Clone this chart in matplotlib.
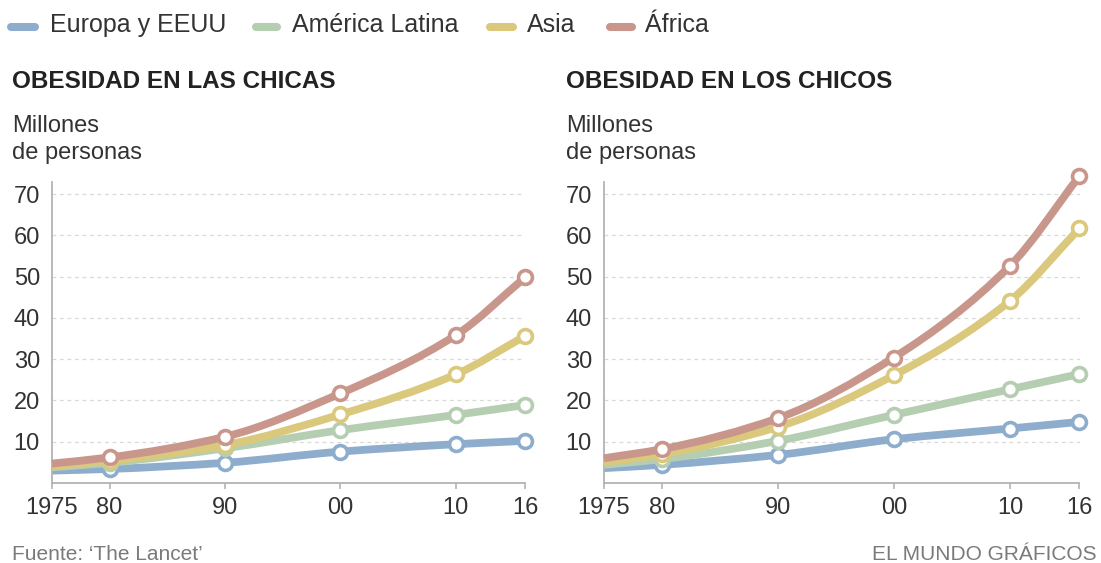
import numpy as np
import matplotlib
matplotlib.use("Agg")
import matplotlib.pyplot as plt
from matplotlib.path import Path
from matplotlib.patches import PathPatch
from matplotlib.lines import Line2D

plt.rcParams['font.family'] = ['Liberation Sans', 'DejaVu Sans']

# ---- data ----
years = [1975, 1980, 1990, 2000, 2010, 2016]
year_labels = ['1975', '80', '90', '00', '10', '16']
yticks = [10, 20, 30, 40, 50, 60, 70]
has_marker = [False, True, True, True, True, True]

series_names = ['Europa y EEUU', 'América Latina', 'Asia', 'África']
series_colors = ['#8eadcd', '#b5ceb1', '#dac87c', '#c9968b']

europa_chicas = [3.0, 3.4, 4.9, 7.6, 9.4, 10.2]
latina_chicas = [3.8, 4.9, 8.4, 12.8, 16.5, 18.9]
asia_chicas = [4.1, 5.4, 9.2, 16.6, 26.3, 35.6]
africa_chicas = [4.7, 6.2, 11.2, 21.7, 35.8, 49.8]

europa_chicos = [3.6, 4.4, 6.8, 10.6, 13.2, 14.8]
latina_chicos = [4.4, 5.8, 10.2, 16.5, 22.7, 26.4]
asia_chicos = [5.0, 7.0, 13.6, 26.1, 44.1, 61.7]
africa_chicos = [6.0, 8.2, 15.7, 30.4, 52.6, 74.4]

titles = ['OBESIDAD EN LAS CHICAS', 'OBESIDAD EN LOS CHICOS']
source = "Fuente: ‘The Lancet’"
credit = 'EL MUNDO GRÁFICOS'

W, H = 1101, 563
fig = plt.figure(figsize=(W / 100, H / 100), dpi=100)
fig.patch.set_facecolor('white')


def fx(px):
    return px / W


def fy(py):
    return 1 - py / H


def monotone_path(x, y):
    x = np.asarray(x, float)
    y = np.asarray(y, float)
    n = len(x)
    h = np.diff(x)
    d = np.diff(y) / h
    m = np.zeros(n)
    m[0] = d[0]
    m[-1] = d[-1]
    for i in range(1, n - 1):
        if d[i - 1] * d[i] <= 0:
            m[i] = 0
        else:
            w1 = 2 * h[i] + h[i - 1]
            w2 = h[i] + 2 * h[i - 1]
            m[i] = (w1 + w2) / (w1 / d[i - 1] + w2 / d[i])
    verts = [(x[0], y[0])]
    codes = [Path.MOVETO]
    for i in range(n - 1):
        verts += [(x[i] + h[i] / 3, y[i] + m[i] * h[i] / 3),
                  (x[i + 1] - h[i] / 3, y[i + 1] - m[i + 1] * h[i] / 3),
                  (x[i + 1], y[i + 1])]
        codes += [Path.CURVE4] * 3
    return Path(verts, codes)


def draw_panel(ax, data):
    ax.set_xlim(years[0], years[-1])
    ax.set_ylim(0, 73)
    for s in ['top', 'right']:
        ax.spines[s].set_visible(False)
    for s in ['left', 'bottom']:
        ax.spines[s].set_color('#b3b3b3')
        ax.spines[s].set_linewidth(1.3)
    ax.set_yticks(yticks)
    ax.set_yticklabels([str(v) for v in yticks])
    ax.set_xticks(years)
    ax.set_xticklabels(year_labels)
    ax.tick_params(axis='y', length=0, pad=8.5, labelsize=17, labelcolor='#333333')
    ax.tick_params(axis='x', length=4, width=1.2, color='#b3b3b3', pad=6,
                   labelsize=17, labelcolor='#333333')
    for v in yticks:
        ax.axhline(v, color='#d9d9d9', lw=0.9, ls=(0, (3, 3)), zorder=0)
    for k, (vals, col) in enumerate(zip(data, series_colors)):
        patch = PathPatch(monotone_path(years, vals), fill=False, edgecolor=col,
                          lw=5.6, capstyle='butt', joinstyle='round',
                          zorder=2 + 2 * k, clip_on=False)
        ax.add_patch(patch)
        mx = [x for x, f in zip(years, has_marker) if f]
        my = [v for v, f in zip(vals, has_marker) if f]
        ax.plot(mx, my, ls='none', marker='o', ms=10.0, mew=2.6, mfc='white',
                mec=col, zorder=3 + 2 * k, clip_on=False)


ax1 = fig.add_axes([fx(51.8), 80 / H, (525 - 51.8) / W, 301.3 / H])
ax2 = fig.add_axes([fx(603.8), 80 / H, (1079.5 - 603.8) / W, 301.3 / H])
draw_panel(ax1, [europa_chicas, latina_chicas, asia_chicas, africa_chicas])
draw_panel(ax2, [europa_chicos, latina_chicos, asia_chicos, africa_chicos])

# titles
for x0, t in zip([12, 566], titles):
    fig.text(fx(x0), fy(88), t, fontsize=17.5, fontweight='bold',
             color='#222222', ha='left', va='baseline')
    fig.text(fx(x0), fy(131.5), 'Millones', fontsize=17, color='#333333',
             ha='left', va='baseline')
    fig.text(fx(x0), fy(159), 'de personas', fontsize=17, color='#333333',
             ha='left', va='baseline')

fig.text(fx(12), fy(560), source, fontsize=15, color='#7a7a7a',
         ha='left', va='baseline')
fig.text(fx(1097), fy(560), credit, fontsize=15, color='#7a7a7a',
         ha='right', va='baseline')

# legend (drawn by hand to match the reference spacing)
legend_handle_x = [(11, 35), (256, 277), (490, 512.5), (610, 632)]
legend_text_x = [50, 291.5, 527, 645]
for name, col, (h0, h1), tx in zip(series_names, series_colors, legend_handle_x, legend_text_x):
    fig.add_artist(Line2D([fx(h0), fx(h1)], [fy(26.5), fy(26.5)], transform=fig.transFigure,
                          color=col, lw=5.8, solid_capstyle='round'))
    fig.text(fx(tx), fy(31.7), name, fontsize=18, color='#333333',
             ha='left', va='baseline')

fig.savefig('out.png', dpi=100, facecolor='white')
